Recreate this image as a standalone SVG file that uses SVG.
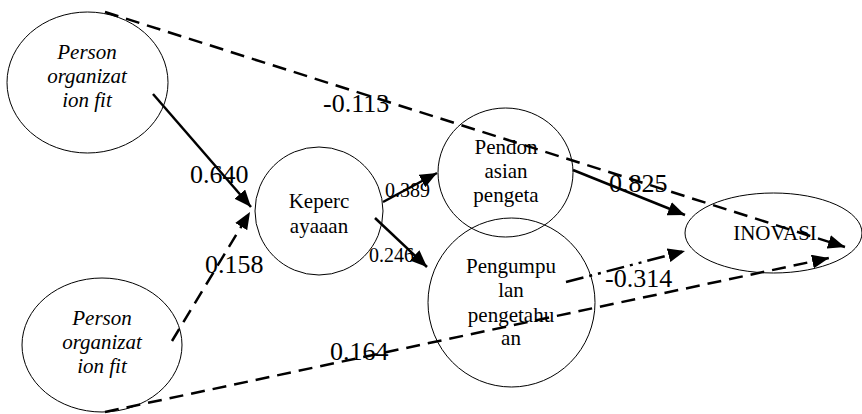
<svg xmlns="http://www.w3.org/2000/svg" width="862" height="414" viewBox="0 0 862 414">
  <style>
    .node { fill: none; stroke: #000; stroke-width: 1; }
    .nt { font-family: 'Liberation Serif', 'DejaVu Serif', serif; font-size: 21px; fill: #000; text-anchor: middle; }
    .it { font-style: italic; }
    .lbl { font-family: 'Liberation Serif', 'DejaVu Serif', serif; font-size: 26px; fill: #000; }
    .lbs { font-family: 'Liberation Serif', 'DejaVu Serif', serif; font-size: 20px; fill: #000; }
    .edge { fill: none; stroke: #000; stroke-width: 2.5; marker-end: url(#arrow); }
    .dash { stroke-dasharray: 14 8; }
    .dashdot { stroke-dasharray: 18 6 3 6 3 6; }
  </style>
  <defs>
    <marker id="arrow" markerUnits="userSpaceOnUse" markerWidth="18" markerHeight="14" refX="17" refY="7" orient="auto">
      <path d="M0,0 L17,7 L0,14 z" fill="#000"/>
    </marker>
  </defs>

  <rect width="862" height="414" fill="#fff"/>

  <g id="pof1">
    <ellipse class="node" cx="87.5" cy="82.5" rx="80.5" ry="70.5"/>
    <text class="nt it" x="87" y="59">Person</text>
    <text class="nt it" x="87" y="83">organizat</text>
    <text class="nt it" x="87" y="107">ion fit</text>
  </g>

  <g id="pof2">
    <ellipse class="node" cx="102" cy="345" rx="80" ry="67"/>
    <text class="nt it" x="102" y="325">Person</text>
    <text class="nt it" x="102" y="349">organizat</text>
    <text class="nt it" x="102" y="373">ion fit</text>
  </g>

  <g id="kepercayaan">
    <ellipse class="node" cx="319" cy="211" rx="64" ry="64"/>
    <text class="nt" x="319" y="208">Keperc</text>
    <text class="nt" x="319" y="233">ayaaan</text>
  </g>

  <g id="pendonasian">
    <ellipse class="node" cx="505.5" cy="172.5" rx="67.5" ry="64.5"/>
    <text class="nt" x="506" y="154">Pendon</text>
    <text class="nt" x="506" y="178">asian</text>
    <text class="nt" x="506" y="202">pengeta</text>
  </g>

  <g id="pengumpulan">
    <ellipse class="node" cx="511.5" cy="302.5" rx="83.5" ry="84.5"/>
    <text class="nt" x="511" y="273">Pengumpu</text>
    <text class="nt" x="511" y="297">lan</text>
    <text class="nt" x="511" y="322">pengetahu</text>
    <text class="nt" x="511" y="345">an</text>
  </g>

  <g id="inovasi">
    <ellipse class="node" cx="773.5" cy="233" rx="88.5" ry="40"/>
    <text class="nt" x="775" y="240">INOVASI</text>
  </g>

  <g id="connectors">
    <line class="edge" x1="153" y1="94" x2="251" y2="207"/>
    <line class="edge dash" x1="172" y1="341" x2="250" y2="212"/>
    <line class="edge dash" x1="105" y1="12" x2="845" y2="247"/>
    <line class="edge dash" x1="105" y1="412" x2="829" y2="258"/>
    <line class="edge" x1="383" y1="202" x2="437" y2="173"/>
    <line class="edge" x1="375" y1="218" x2="427" y2="267"/>
    <line class="edge" x1="573" y1="170" x2="685" y2="215"/>
    <line class="edge dashdot" x1="566" y1="282" x2="685" y2="251"/>
  </g>

  <g id="labels">
    <text class="lbl" x="190" y="183">0.640</text>
    <text class="lbl" x="205" y="273">0.158</text>
    <text class="lbl" x="323" y="112">-0.113</text>
    <text class="lbl" x="609" y="192">0.825</text>
    <text class="lbl" x="605" y="287">-0.314</text>
    <text class="lbl" x="330" y="360">0.164</text>
    <text class="lbs" x="385" y="197">0.389</text>
    <text class="lbs" x="369" y="262">0.246</text>
  </g>
</svg>
